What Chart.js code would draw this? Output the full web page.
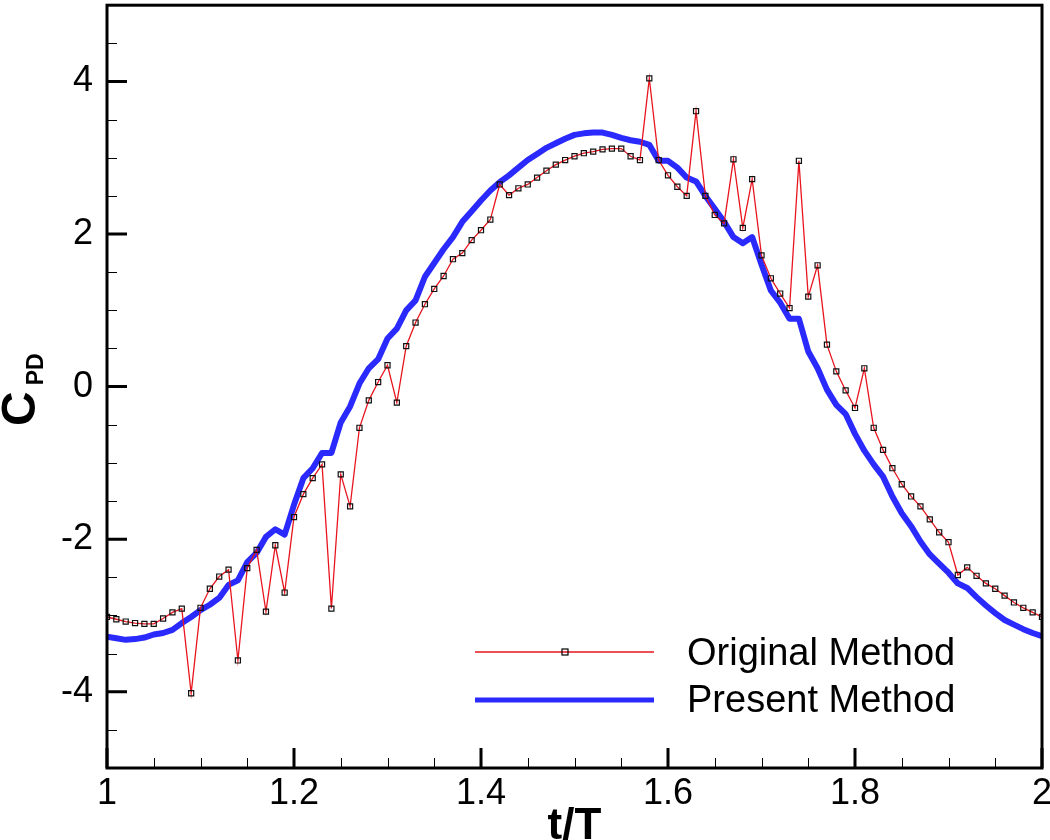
<!DOCTYPE html>
<html>
<head>
<meta charset="utf-8">
<script src="https://cdn.jsdelivr.net/npm/chart.js@4/dist/chart.umd.min.js"></script>
<style>
  html, body { margin: 0; padding: 0; background: #fff; }
  canvas { display: block; }
</style>
</head>
<body>
<canvas id="chart" width="1050" height="840"></canvas>
<script>
// Sample times t/T
const T_VALUES = [
    1.00, 1.01, 1.02, 1.03, 1.04, 1.05, 1.06, 1.07, 1.08, 1.09,
    1.10, 1.11, 1.12, 1.13, 1.14, 1.15, 1.16, 1.17, 1.18, 1.19,
    1.20, 1.21, 1.22, 1.23, 1.24, 1.25, 1.26, 1.27, 1.28, 1.29,
    1.30, 1.31, 1.32, 1.33, 1.34, 1.35, 1.36, 1.37, 1.38, 1.39,
    1.40, 1.41, 1.42, 1.43, 1.44, 1.45, 1.46, 1.47, 1.48, 1.49,
    1.50, 1.51, 1.52, 1.53, 1.54, 1.55, 1.56, 1.57, 1.58, 1.59,
    1.60, 1.61, 1.62, 1.63, 1.64, 1.65, 1.66, 1.67, 1.68, 1.69,
    1.70, 1.71, 1.72, 1.73, 1.74, 1.75, 1.76, 1.77, 1.78, 1.79,
    1.80, 1.81, 1.82, 1.83, 1.84, 1.85, 1.86, 1.87, 1.88, 1.89,
    1.90, 1.91, 1.92, 1.93, 1.94, 1.95, 1.96, 1.97, 1.98, 1.99,
    2.00
];

// C_PD, original method (noisy)
const ORIGINAL = [
    -3.02, -3.05, -3.08, -3.10, -3.11, -3.11, -3.04, -2.96, -2.91, -4.02,
    -2.90, -2.65, -2.49, -2.40, -3.59, -2.38, -2.14, -2.95, -2.08, -2.70,
    -1.71, -1.41, -1.20, -1.02, -2.91, -1.15, -1.57, -0.54, -0.18, 0.06,
    0.28, -0.21, 0.53, 0.84, 1.08, 1.28, 1.45, 1.67, 1.75, 1.92,
    2.05, 2.19, 2.65, 2.51, 2.60, 2.65, 2.74, 2.83, 2.91, 2.97,
    3.02, 3.06, 3.08, 3.11, 3.12, 3.12, 3.02, 2.97, 4.04, 2.97,
    2.77, 2.62, 2.50, 3.61, 2.50, 2.25, 2.14, 2.98, 2.08, 2.72,
    1.72, 1.42, 1.22, 1.03, 2.96, 1.18, 1.59, 0.55, 0.20, -0.05,
    -0.28, 0.24, -0.54, -0.83, -1.07, -1.28, -1.44, -1.57, -1.74, -1.91,
    -2.04, -2.47, -2.37, -2.48, -2.58, -2.65, -2.74, -2.83, -2.90, -2.96,
    -3.02
];

// C_PD, present method
const PRESENT = [
    -3.28, -3.30, -3.32, -3.31, -3.29, -3.25, -3.23, -3.19, -3.10, -3.02,
    -2.93, -2.86, -2.77, -2.60, -2.54, -2.30, -2.18, -1.97, -1.87, -1.94,
    -1.55, -1.20, -1.07, -0.87, -0.87, -0.47, -0.26, 0.04, 0.24, 0.36,
    0.63, 0.76, 1.00, 1.13, 1.44, 1.62, 1.80, 1.96, 2.16, 2.30,
    2.44, 2.57, 2.68, 2.77, 2.87, 2.97, 3.05, 3.13, 3.19, 3.25,
    3.30, 3.32, 3.33, 3.33, 3.30, 3.26, 3.23, 3.21, 3.17, 2.96,
    2.96, 2.87, 2.74, 2.69, 2.50, 2.33, 2.16, 1.96, 1.88, 1.96,
    1.60, 1.26, 1.10, 0.89, 0.89, 0.46, 0.24, -0.04, -0.24, -0.36,
    -0.62, -0.84, -1.02, -1.18, -1.44, -1.66, -1.83, -2.03, -2.20, -2.32,
    -2.44, -2.58, -2.64, -2.76, -2.87, -2.97, -3.06, -3.12, -3.18, -3.23,
    -3.27
];

const X_TICKS = [1, 1.2, 1.4, 1.6, 1.8, 2];
const Y_TICKS = [-4, -2, 0, 2, 4];
const SERIES_LABELS = ['Original Method', 'Present Method'];

const FONT = '"Liberation Sans", Arial, Helvetica, sans-serif';
const RED = '#e8141e';
const BLUE = '#2a2aff';

const toPoints = (ys) => ys.map((y, i) => ({ x: T_VALUES[i], y }));

// frame, inward ticks, axis titles and the legend box
const decorations = {
    id: 'decorations',
    afterDraw(chart) {
        const { ctx, chartArea: a, scales: { x, y } } = chart;
        ctx.save();
        ctx.strokeStyle = '#000';

        // minor ticks
        ctx.lineWidth = 1;
        ctx.beginPath();
        for (let v = x.min; v <= x.max + 1e-9; v += 0.05) {
            const px = Math.round(x.getPixelForValue(v)) + 0.5;
            ctx.moveTo(px, a.bottom);
            ctx.lineTo(px, a.bottom - 10);
        }
        for (let v = y.min; v <= y.max + 1e-9; v += 0.5) {
            const py = Math.round(y.getPixelForValue(v)) + 0.5;
            ctx.moveTo(a.left, py);
            ctx.lineTo(a.left + 10, py);
        }
        ctx.stroke();

        // major ticks
        ctx.lineWidth = 3;
        ctx.beginPath();
        for (const v of X_TICKS) {
            const px = x.getPixelForValue(v);
            ctx.moveTo(px, a.bottom);
            ctx.lineTo(px, a.bottom - 20);
        }
        for (const v of Y_TICKS) {
            const py = y.getPixelForValue(v);
            ctx.moveTo(a.left, py);
            ctx.lineTo(a.left + 20, py);
        }
        ctx.stroke();

        // frame
        ctx.lineWidth = 3;
        ctx.strokeRect(a.left, a.top, a.right - a.left, a.bottom - a.top);

        // x title
        ctx.fillStyle = '#000';
        ctx.font = `bold 44px ${FONT}`;
        ctx.textAlign = 'center';
        ctx.textBaseline = 'alphabetic';
        ctx.fillText('t/T', (a.left + a.right) / 2, 839);

        // y title C_PD, rotated
        ctx.save();
        ctx.translate(35, 426);
        ctx.rotate(-Math.PI / 2);
        ctx.textAlign = 'left';
        ctx.font = `bold 48px ${FONT}`;
        ctx.fillText('C', 0, 0);
        const cw = ctx.measureText('C').width;
        ctx.font = `bold 23px ${FONT}`;
        ctx.fillText('PD', cw + 6, 8);
        ctx.restore();

        // legend
        ctx.font = `38px ${FONT}`;
        ctx.textAlign = 'left';
        ctx.lineCap = 'butt';
        ctx.strokeStyle = RED;
        ctx.lineWidth = 1.3;
        ctx.beginPath();
        ctx.moveTo(475, 652);
        ctx.lineTo(654, 652);
        ctx.stroke();
        ctx.strokeStyle = '#000';
        ctx.lineWidth = 1.2;
        ctx.strokeRect(562, 649, 6, 6);
        ctx.fillText(SERIES_LABELS[0], 687, 665);

        ctx.strokeStyle = BLUE;
        ctx.lineWidth = 5;
        ctx.beginPath();
        ctx.moveTo(475, 700);
        ctx.lineTo(654, 700);
        ctx.stroke();
        ctx.fillText(SERIES_LABELS[1], 687, 712);

        ctx.restore();
    }
};

const tickFont = { family: FONT, size: 36 };

new Chart(document.getElementById('chart'), {
    type: 'line',
    data: {
        datasets: [
            {
                label: SERIES_LABELS[0],
                data: toPoints(ORIGINAL),
                borderColor: RED,
                borderWidth: 1.3,
                pointStyle: 'rect',
                pointRadius: 3.6,
                pointBorderWidth: 1.2,
                pointBorderColor: '#111',
                pointBackgroundColor: 'rgba(0,0,0,0)',
                tension: 0,
                fill: false,
                order: 0
            },
            {
                label: SERIES_LABELS[1],
                data: toPoints(PRESENT),
                borderColor: BLUE,
                borderWidth: 6,
                borderJoinStyle: 'round',
                pointRadius: 0,
                tension: 0,
                fill: false,
                order: 1
            }
        ]
    },
    options: {
        responsive: false,
        animation: false,
        devicePixelRatio: 1,
        layout: { padding: { left: 0, right: 8, top: 2, bottom: 0 } },
        plugins: {
            legend: { display: false },
            tooltip: { enabled: false }
        },
        scales: {
            x: {
                type: 'linear',
                min: 1,
                max: 2,
                afterBuildTicks: (s) => { s.ticks = X_TICKS.map((value) => ({ value })); },
                afterFit: (s) => {
                    s.height = 72;
                    s.paddingLeft = 0;
                    s.paddingRight = 0;
                },
                grid: { display: false, drawTicks: false },
                border: { display: false },
                ticks: {
                    font: tickFont,
                    color: '#000',
                    padding: 4,
                    maxRotation: 0,
                    autoSkip: false,
                    callback: (v) => String(+Number(v).toFixed(2))
                }
            },
            y: {
                type: 'linear',
                min: -5,
                max: 5,
                afterBuildTicks: (s) => { s.ticks = Y_TICKS.map((value) => ({ value })); },
                afterFit: (s) => {
                    s.width = 107;
                    s.paddingTop = 0;
                    s.paddingBottom = 0;
                },
                grid: { display: false, drawTicks: false },
                border: { display: false },
                ticks: {
                    font: tickFont,
                    color: '#000',
                    padding: 14,
                    autoSkip: false,
                    callback: (v) => String(+Number(v).toFixed(2))
                }
            }
        }
    },
    plugins: [decorations]
});
</script>
</body>
</html>
